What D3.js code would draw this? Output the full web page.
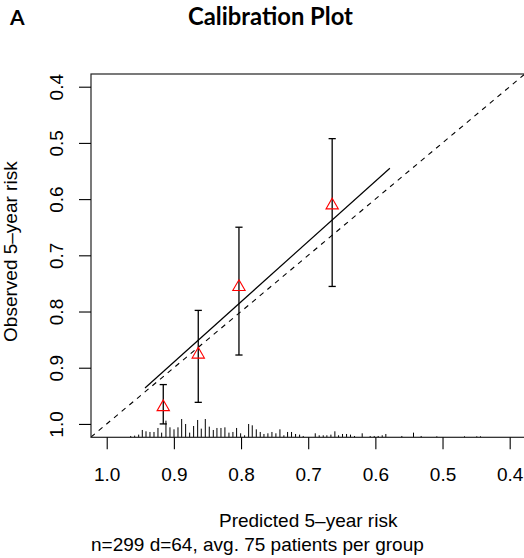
<!DOCTYPE html>
<html><head><meta charset="utf-8">
<script src="https://cdn.jsdelivr.net/npm/d3@7"></script>
<style>
body{margin:0;background:#fff;}
svg text{font-family:"Liberation Sans",Arial,Helvetica,sans-serif;fill:#000;}
</style>
</head><body>
<svg id="chart" width="524" height="558"></svg>
<script>
// ---- data ----
const xTicks = [1.0, 0.9, 0.8, 0.7, 0.6, 0.5, 0.4];
const yTicks = [0.4, 0.5, 0.6, 0.7, 0.8, 0.9, 1.0];
// grouped calibration points
const groupPred = [0.9158, 0.8637, 0.8031, 0.6643];
const groupObs  = [0.970, 0.8765, 0.7562, 0.6110];
const ciLow     = [0.930, 0.798, 0.650, 0.4924];
const ciHigh    = [1.000, 0.9616, 0.8774, 0.7554];
// apparent calibration line
const lineX = [0.943, 0.5784];
const lineY = [0.936, 0.545];
// distribution of predicted risk (spike histogram)
const rugX = [0.9643,0.9584,0.9524,0.9470,0.9415,0.9356,0.9296,0.9237,0.9182,0.9118,0.9058,0.8998,0.8939,0.8884,0.8825,0.8765,0.8706,0.8646,0.8592,0.8532,0.8473,0.8413,0.8359,0.8299,0.8240,0.8180,0.8121,0.8066,0.8006,0.7947,0.7887,0.7833,0.7773,0.7714,0.7659,0.7600,0.7540,0.7481,0.7421,0.7362,0.7307,0.7248,0.7188,0.7128,0.7074,0.6895,0.6836,0.6776,0.6722,0.6662,0.6603,0.6548,0.6489,0.6429,0.6370,0.6310,0.6196,0.6077,0.6017,0.5958,0.5898,0.5844,0.5606,0.5432,0.5318,0.5085,0.4673,0.4490,0.4435];
const rugN = [4,5,8,22,18,16,16,28,14,50,30,24,30,55,40,14,34,52,26,55,32,22,28,28,30,14,16,28,12,6,40,36,24,16,10,12,16,12,24,6,16,16,10,8,4,12,6,6,6,8,18,6,10,10,8,4,12,4,4,4,6,10,4,14,4,3,3,3,3];
const titleText = "Calibration Plot";
const panelLabel = "A";
const xLabel = "Predicted 5\u2013year risk";
const yLabel = "Observed 5\u2013year risk";
const subText = "n=299 d=64, avg. 75 patients per group";

// ---- layout ----
const L = 91, R = 525.4, T = 74, B = 437.3;
const svg = d3.select("#chart");
const x = d3.scaleLinear().domain([1.0234, 0.3766]).range([L, R]);
const y = d3.scaleLinear().domain([0.3774, 1.0238]).range([T, B]);
const h = d3.scaleLinear().domain([0, 55]).range([0, 18.3]);

svg.append("clipPath").attr("id","clip").append("rect")
  .attr("x", L).attr("y", T).attr("width", R - L).attr("height", B - T);

// diagonal ideal line
svg.append("line").attr("clip-path","url(#clip)")
  .attr("x1", x(1.0234)).attr("y1", y(1.0234))
  .attr("x2", x(0.3766)).attr("y2", y(0.3766))
  .attr("stroke","#000").attr("stroke-width",1.1).attr("stroke-dasharray","5,5");

// spike histogram
svg.append("g").selectAll("line").data(rugX).join("line")
  .attr("x1", d => x(d)).attr("x2", d => x(d))
  .attr("y1", B).attr("y2", (d,i) => B - h(rugN[i]))
  .attr("stroke","#000").attr("stroke-width",1);

// apparent calibration line
svg.append("path")
  .datum(lineX.map((v,i)=>[v,lineY[i]]))
  .attr("d", d3.line().x(d=>x(d[0])).y(d=>y(d[1])))
  .attr("fill","none").attr("stroke","#000").attr("stroke-width",1.2);

// error bars
const eb = svg.append("g").selectAll("g").data(groupPred).join("g");
eb.append("line").attr("x1", d=>x(d)).attr("x2", d=>x(d))
  .attr("y1", (d,i)=>y(ciLow[i])).attr("y2", (d,i)=>y(ciHigh[i]))
  .attr("stroke","#000").attr("stroke-width",1.3);
eb.append("line").attr("x1", d=>x(d)-3.6).attr("x2", d=>x(d)+3.6)
  .attr("y1", (d,i)=>y(ciLow[i])).attr("y2", (d,i)=>y(ciLow[i]))
  .attr("stroke","#000").attr("stroke-width",1.3);
eb.append("line").attr("x1", d=>x(d)-3.6).attr("x2", d=>x(d)+3.6)
  .attr("y1", (d,i)=>y(ciHigh[i])).attr("y2", (d,i)=>y(ciHigh[i]))
  .attr("stroke","#000").attr("stroke-width",1.3);

// triangles
svg.append("g").selectAll("path").data(groupPred).join("path")
  .attr("transform", (d,i)=>`translate(${x(d)},${y(groupObs[i])})`)
  .attr("d", d3.symbol(d3.symbolTriangle, 66))
  .attr("fill","none").attr("stroke","#ff0000").attr("stroke-width",1.1);

// box
svg.append("rect").attr("x", L).attr("y", T).attr("width", R - L).attr("height", B - T)
  .attr("fill","none").attr("stroke","#222").attr("stroke-width",1.2);

// axes
const fmt = d3.format(".1f");
const xa = svg.append("g").attr("transform",`translate(0,${B})`)
  .call(d3.axisBottom(x).tickValues(xTicks).tickFormat(fmt).tickSize(12).tickPadding(18).tickSizeOuter(0));
xa.select(".domain").remove();
xa.selectAll(".tick line").attr("stroke","#000").attr("stroke-width",1.1);
xa.selectAll(".tick text").attr("font-size",19).attr("font-family",null);

const ya = svg.append("g").attr("transform",`translate(${L},0)`)
  .call(d3.axisLeft(y).tickValues(yTicks).tickFormat(fmt).tickSize(12).tickSizeOuter(0));
ya.select(".domain").remove();
ya.selectAll(".tick line").attr("stroke","#000").attr("stroke-width",1.1);
ya.selectAll(".tick text").attr("font-size",19).attr("font-family",null)
  .attr("x",0).attr("dy",0).attr("text-anchor","middle")
  .attr("transform","translate(-28,0) rotate(-90)");

// axis titles
svg.append("text").attr("x",(L+R)/2).attr("y",527).attr("text-anchor","middle")
  .attr("font-size",19).text(xLabel);
svg.append("text").attr("transform",`translate(16.5,${(T+B)/2 - 4}) rotate(-90)`)
  .attr("text-anchor","middle").attr("font-size",19).text(yLabel);
svg.append("text").attr("x",L).attr("y",551).attr("font-size",19).text(subText);

// title and panel label
const tt = svg.append("text").attr("x",270.5).attr("y",25).attr("text-anchor","middle")
  .style("font-family","Lato, 'Open Sans', sans-serif").style("font-weight","bold")
  .attr("font-size",22).text(titleText);
const tl = tt.node().getComputedTextLength();
tt.attr("font-size", 22*165/tl);
svg.append("text").attr("x",10).attr("y",25)
  .style("font-family","Lato, 'Open Sans', sans-serif").style("font-weight","bold")
  .attr("font-size",21).text(panelLabel);
</script>
</body></html>
